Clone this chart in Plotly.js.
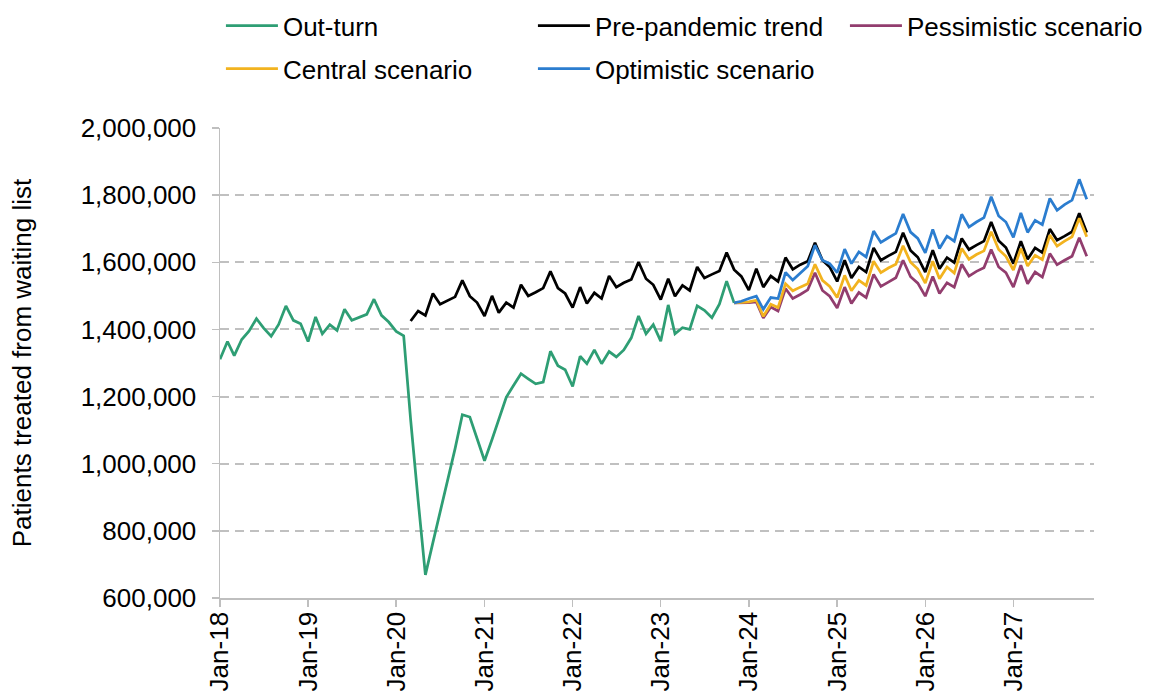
<!DOCTYPE html>
<html>
<head>
<meta charset="utf-8">
<script src="https://cdn.plot.ly/plotly-3.0.1.min.js"></script>
<style>
html,body{margin:0;padding:0;background:#fff;}
#chart{width:1150px;height:695px;}
</style>
</head>
<body>
<div id="chart"></div>
<script>
// Monthly category axis: Jan-18 ... Nov-27
const startYear = 2018;
const monthCount = 119;
const months = [];
for (let i = 0; i < monthCount; i++) {
  const y = startYear + Math.floor(i / 12);
  const m = (i % 12) + 1;
  months.push(y + '-' + (m < 10 ? '0' : '') + m + '-01');
}

// Out-turn: Jan-18 to Nov-23
const outturn = [
  1311000, 1364000, 1322000, 1370000, 1395000, 1432000, 1404000, 1380000, 1415000, 1470000, 1427000, 1417000,
  1364000, 1437000, 1387000, 1414000, 1397000, 1460000, 1427000, 1437000, 1445000, 1490000, 1442000, 1422000,
  1394000, 1381000, 1130000, 890000, 669000, 765000, 855000, 950000, 1045000, 1146000, 1139000, 1075000,
  1009000, 1072000, 1134000, 1198000, 1233000, 1268000, 1253000, 1238000, 1243000, 1335000, 1292000, 1280000,
  1230000, 1320000, 1298000, 1339000, 1298000, 1334000, 1318000, 1339000, 1375000, 1440000, 1387000, 1414000,
  1365000, 1473000, 1387000, 1405000, 1400000, 1470000, 1457000, 1435000, 1475000, 1544000, 1479000
];
const outturnStart = 0;

// Pre-pandemic trend: Mar-20 to Nov-27
const prePandemic = [
  1425000, 1455000, 1442000, 1507000, 1475000, 1487000, 1497000, 1546000, 1499000, 1480000,
  1440000, 1500000, 1450000, 1480000, 1465000, 1533000, 1500000, 1511000, 1523000, 1573000, 1523000, 1507000,
  1465000, 1526000, 1477000, 1509000, 1492000, 1559000, 1526000, 1539000, 1549000, 1601000, 1551000, 1533000,
  1489000, 1551000, 1499000, 1531000, 1516000, 1586000, 1553000, 1564000, 1574000, 1629000, 1578000, 1558000,
  1517000, 1581000, 1526000, 1559000, 1543000, 1614000, 1579000, 1593000, 1603000, 1658000, 1606000, 1586000,
  1543000, 1606000, 1553000, 1586000, 1571000, 1643000, 1606000, 1619000, 1631000, 1688000, 1635000, 1615000,
  1571000, 1636000, 1581000, 1614000, 1599000, 1671000, 1638000, 1651000, 1663000, 1720000, 1664000, 1644000,
  1596000, 1663000, 1609000, 1643000, 1629000, 1699000, 1666000, 1678000, 1691000, 1746000, 1689000
];
const prePandemicStart = 26;

// Scenarios: Nov-23 to Nov-27
const pessimistic = [
  1479000, 1479000,
  1480000, 1482000, 1434000, 1467000, 1455000, 1522000, 1492000, 1504000, 1518000, 1569000, 1516000, 1499000,
  1464000, 1526000, 1477000, 1510000, 1495000, 1564000, 1528000, 1541000, 1554000, 1606000, 1557000, 1538000,
  1499000, 1558000, 1507000, 1539000, 1526000, 1594000, 1559000, 1573000, 1584000, 1638000, 1586000, 1569000,
  1526000, 1591000, 1536000, 1571000, 1556000, 1626000, 1593000, 1606000, 1618000, 1673000, 1618000
];
const central = [
  1479000, 1480000,
  1482000, 1487000, 1439000, 1475000, 1465000, 1536000, 1515000, 1526000, 1536000, 1594000, 1546000, 1528000,
  1495000, 1561000, 1515000, 1546000, 1531000, 1603000, 1569000, 1583000, 1594000, 1649000, 1600000, 1580000,
  1538000, 1603000, 1551000, 1586000, 1568000, 1641000, 1609000, 1623000, 1634000, 1691000, 1638000, 1618000,
  1577000, 1641000, 1589000, 1621000, 1608000, 1681000, 1648000, 1663000, 1676000, 1731000, 1676000
];
const optimistic = [
  1479000, 1484000,
  1492000, 1499000, 1460000, 1495000, 1492000, 1570000, 1547000, 1569000, 1588000, 1651000, 1606000, 1596000,
  1569000, 1639000, 1596000, 1631000, 1616000, 1693000, 1659000, 1673000, 1686000, 1744000, 1690000, 1671000,
  1628000, 1698000, 1641000, 1678000, 1663000, 1743000, 1705000, 1720000, 1733000, 1795000, 1738000, 1720000,
  1674000, 1747000, 1689000, 1725000, 1712000, 1790000, 1755000, 1772000, 1785000, 1847000, 1788000
];
const scenarioStart = 70;

const seriesNames = ['Out-turn', 'Pre-pandemic trend', 'Pessimistic scenario', 'Central scenario', 'Optimistic scenario'];
const seriesColors = ['#2e9e74', '#000000', '#923d6e', '#f2b31f', '#2b7dcf'];
const seriesLegend = ['legend', 'legend', 'legend', 'legend2', 'legend2'];

function xs(start, arr) { return months.slice(start, start + arr.length); }

const seriesData = [
  [outturnStart, outturn],
  [prePandemicStart, prePandemic],
  [scenarioStart, pessimistic],
  [scenarioStart, central],
  [scenarioStart, optimistic]
];

const traces = seriesData.map((d, i) => ({
  type: 'scatter',
  mode: 'lines',
  name: seriesNames[i],
  legend: seriesLegend[i],
  x: xs(d[0], d[1]),
  y: d[1],
  line: { color: seriesColors[i], width: 2.75 },
  hoverinfo: 'x+y+name'
}));

const FONT = 'Liberation Sans, Arial, sans-serif';

function legendRow(yPos) {
  return {
    orientation: 'h',
    x: -0.0058, xanchor: 'left',
    y: yPos, yanchor: 'top',
    entrywidth: 245,
    entrywidthmode: 'pixels',
    itemwidth: 52,
    traceorder: 'normal',
    font: { family: FONT, size: 26, color: '#000000' },
    bgcolor: 'rgba(0,0,0,0)',
    bordercolor: 'rgba(0,0,0,0)',
    borderwidth: 6
  };
}

const layout = {
  width: 1150,
  height: 695,
  margin: { l: 220, r: 56, t: 128, b: 97, autoexpand: false },
  paper_bgcolor: '#ffffff',
  plot_bgcolor: '#ffffff',
  font: { family: FONT, size: 26, color: '#000000' },
  showlegend: true,
  legend: legendRow(1.2804),
  legend2: legendRow(1.1889),
  xaxis: {
    type: 'date',
    range: ['2018-01-01', '2027-12-01'],
    tick0: '2018-01-01',
    dtick: 'M12',
    tickformat: '%b-%y',
    tickangle: -90,
    showgrid: false,
    showline: true,
    linecolor: '#bfbfbf',
    linewidth: 1.5,
    ticks: 'outside',
    ticklen: 7,
    tickcolor: '#bfbfbf',
    tickwidth: 1.5,
    ticklabelstandoff: -5,
    tickfont: { family: FONT, size: 26, color: '#000000' },
    zeroline: false,
    automargin: false,
    fixedrange: true
  },
  yaxis: {
    range: [600000, 2000000],
    dtick: 200000,
    tick0: 0,
    tickformat: ',d',
    showgrid: true,
    gridcolor: '#c0c0c0',
    gridwidth: 2,
    griddash: '9px,6px',
    showline: true,
    linecolor: '#bfbfbf',
    linewidth: 1.5,
    ticks: 'outside',
    ticklen: 7,
    tickcolor: '#bfbfbf',
    tickwidth: 1.5,
    ticklabelstandoff: 10,
    tickfont: { family: FONT, size: 26, color: '#000000' },
    zeroline: false,
    automargin: false,
    title: { text: 'Patients treated from waiting list', font: { family: FONT, size: 26, color: '#000000' }, standoff: 41 },
    fixedrange: true
  }
};

Plotly.newPlot('chart', traces, layout, { displayModeBar: false, staticPlot: true });
</script>
</body>
</html>
